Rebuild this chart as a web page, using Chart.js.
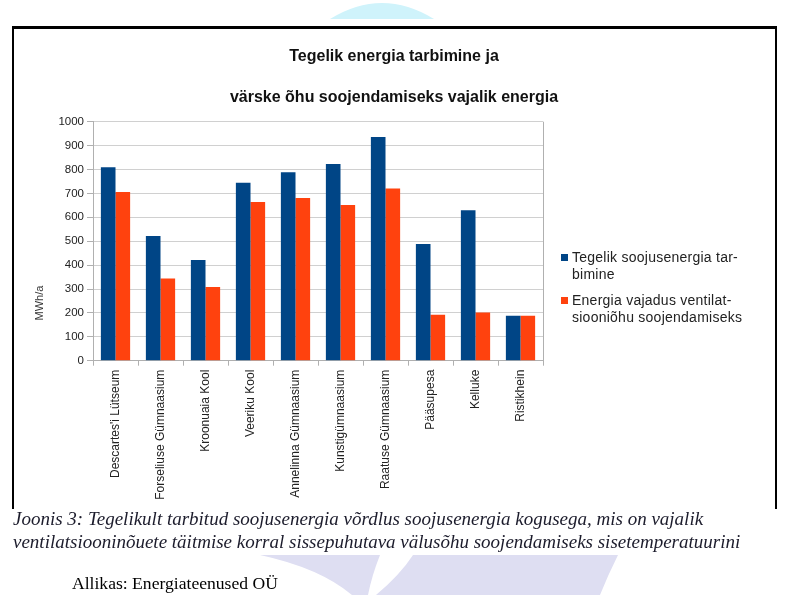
<!DOCTYPE html>
<html>
<head>
<meta charset="utf-8">
<script src="https://cdn.jsdelivr.net/npm/chart.js@4"></script>
<style>
html,body{margin:0;padding:0;background:#fff;}
body{width:794px;height:595px;position:relative;overflow:hidden;font-family:"Liberation Sans",Arial,sans-serif;}
#deco{position:absolute;left:0;top:0;z-index:0;}
#frame{position:absolute;left:12px;top:26px;width:761px;height:480px;border-left:2px solid #000;border-right:2px solid #000;border-top:3px solid #000;background:#fff;z-index:1;}
#c{position:absolute;left:0;top:0;z-index:2;}
#legend{position:absolute;left:561px;top:249px;z-index:3;font-size:14px;letter-spacing:0.25px;color:#222;line-height:17px;}
#legend .item{position:relative;padding-left:11px;margin-bottom:9px;}
#legend .sw{position:absolute;left:0;top:5px;width:7px;height:7px;}
#ylab{position:absolute;left:9px;top:296px;width:60px;height:14px;line-height:14px;text-align:center;font-size:11px;color:#333;transform:rotate(-90deg);z-index:3;}
#cap{position:absolute;left:13px;top:507px;font-family:"Liberation Serif","Times New Roman",serif;font-style:italic;font-size:19px;line-height:23px;color:#1c1c2c;white-space:nowrap;z-index:3;}
#src{position:absolute;left:72px;top:574px;font-family:"Liberation Serif","Times New Roman",serif;font-size:17.6px;line-height:19px;color:#000;white-space:nowrap;z-index:3;}
</style>
</head>
<body>
<svg id="deco" width="794" height="595">
  <path d="M330,19 Q382,-13 434,19 Z" fill="#cff3fb"/>
  <path d="M260,555 L380,555 Q372,575 368,595 L352,595 Q320,568 260,555 Z" fill="#dedef2"/>
  <path d="M413,555 L618,555 Q608,575 600,595 L376,595 Q400,575 413,555 Z" fill="#dedef2"/>
</svg>
<div id="frame"></div>
<canvas id="c" width="794" height="595"></canvas>
<div id="legend"></div>
<div id="ylab"></div>
<div id="cap"></div>
<div id="src"></div>
<script>
// ---- data ----
const categories = ["Descartes'i Lütseum","Forseliuse Gümnaasium","Kroonuaia Kool","Veeriku Kool","Annelinna Gümnaasium","Kunstigümnaasium","Raatuse Gümnaasium","Pääsupesa","Kelluke","Ristikhein"];
const actualUse = [809, 522, 421, 745, 789, 823, 936, 488, 629, 188];
const ventilationNeed = [706, 344, 308, 664, 681, 651, 720, 192, 202, 188];
const seriesNames = ["Tegelik soojusenergia tarbimine", "Energia vajadus ventilatsiooniõhu soojendamiseks"];
const legendLines = [["Tegelik soojusenergia tar-","bimine"],["Energia vajadus ventilat-","siooniõhu soojendamiseks"]];
const seriesColors = ["#004586", "#ff420e"];
const titleLines = ["Tegelik energia tarbimine ja", "värske õhu soojendamiseks vajalik energia"];
const yAxisLabel = "MWh/a";
const yMin = 0, yMax = 1000, yStep = 100;
const captionLines = ["Joonis 3: Tegelikult tarbitud soojusenergia võrdlus soojusenergia kogusega, mis on vajalik", "ventilatsiooninõuete täitmise korral sissepuhutava välusõhu soojendamiseks sisetemperatuurini"];
const sourceText = "Allikas: Energiateenused OÜ";

// ---- html text ----
const lg = document.getElementById('legend');
legendLines.forEach((lines, i) => {
  const it = document.createElement('div'); it.className = 'item';
  const sw = document.createElement('span'); sw.className = 'sw'; sw.style.background = seriesColors[i];
  it.appendChild(sw);
  lines.forEach(l => { const d = document.createElement('div'); d.textContent = l; it.appendChild(d); });
  lg.appendChild(it);
});
document.getElementById('ylab').textContent = yAxisLabel;
const cap = document.getElementById('cap');
captionLines.forEach(l => { const d = document.createElement('div'); d.textContent = l; cap.appendChild(d); });
document.getElementById('src').textContent = sourceText;

// ---- chart ----
const plotBorder = {
  id: 'plotBorder',
  afterDatasetsDraw(chart) {
    const a = chart.chartArea, c = chart.ctx;
    c.save(); c.strokeStyle = '#b0b0b0'; c.lineWidth = 1;
    c.beginPath(); c.moveTo(a.right + 0.5, a.top); c.lineTo(a.right + 0.5, a.bottom); c.stroke();
    c.restore();
  }
};

const font = "'Liberation Sans', Arial, sans-serif";
new Chart(document.getElementById('c'), {
  type: 'bar',
  data: {
    labels: categories,
    datasets: [
      { label: seriesNames[0], data: actualUse, backgroundColor: seriesColors[0], categoryPercentage: 0.65, barPercentage: 1, yAxisID: 'y' },
      { label: seriesNames[1], data: ventilationNeed, backgroundColor: seriesColors[1], categoryPercentage: 0.65, barPercentage: 1, yAxisID: 'y' }
    ]
  },
  options: {
    responsive: false,
    animation: false,
    devicePixelRatio: 1,
    layout: { padding: { left: 13, right: 19, top: 0, bottom: 0 } },
    plugins: {
      legend: { display: false },
      tooltip: { enabled: false },
      title: {
        display: true,
        text: titleLines,
        color: '#111',
        font: { family: font, size: 16, weight: 'bold', lineHeight: 41 / 16 },
        padding: { top: 36.5, bottom: 3.2 }
      }
    },
    scales: {
      x: {
        grid: { display: true, drawOnChartArea: false, drawTicks: true, tickLength: 5, color: '#b0b0b0', offset: true },
        border: { color: '#b0b0b0' },
        ticks: { minRotation: 90, maxRotation: 90, autoSkip: false, padding: 4, color: '#222', font: { family: font, size: 12 } },
        afterFit: s => { s.height = 234.3; }
      },
      y: {
        min: yMin, max: yMax,
        ticks: { stepSize: yStep, padding: 3, color: '#222', font: { family: font, size: 11.5 }, callback: v => String(v) },
        grid: { color: '#d0d0d0', tickLength: 6, tickColor: '#b0b0b0' },
        border: { color: '#b0b0b0' },
        afterFit: s => { s.width = 80; }
      },
      yR: {
        position: 'right', display: true,
        grid: { display: false }, ticks: { display: false }, border: { display: false },
        afterFit: s => { s.width = 232; }
      }
    }
  },
  plugins: [plotBorder]
});
</script>
</body>
</html>
